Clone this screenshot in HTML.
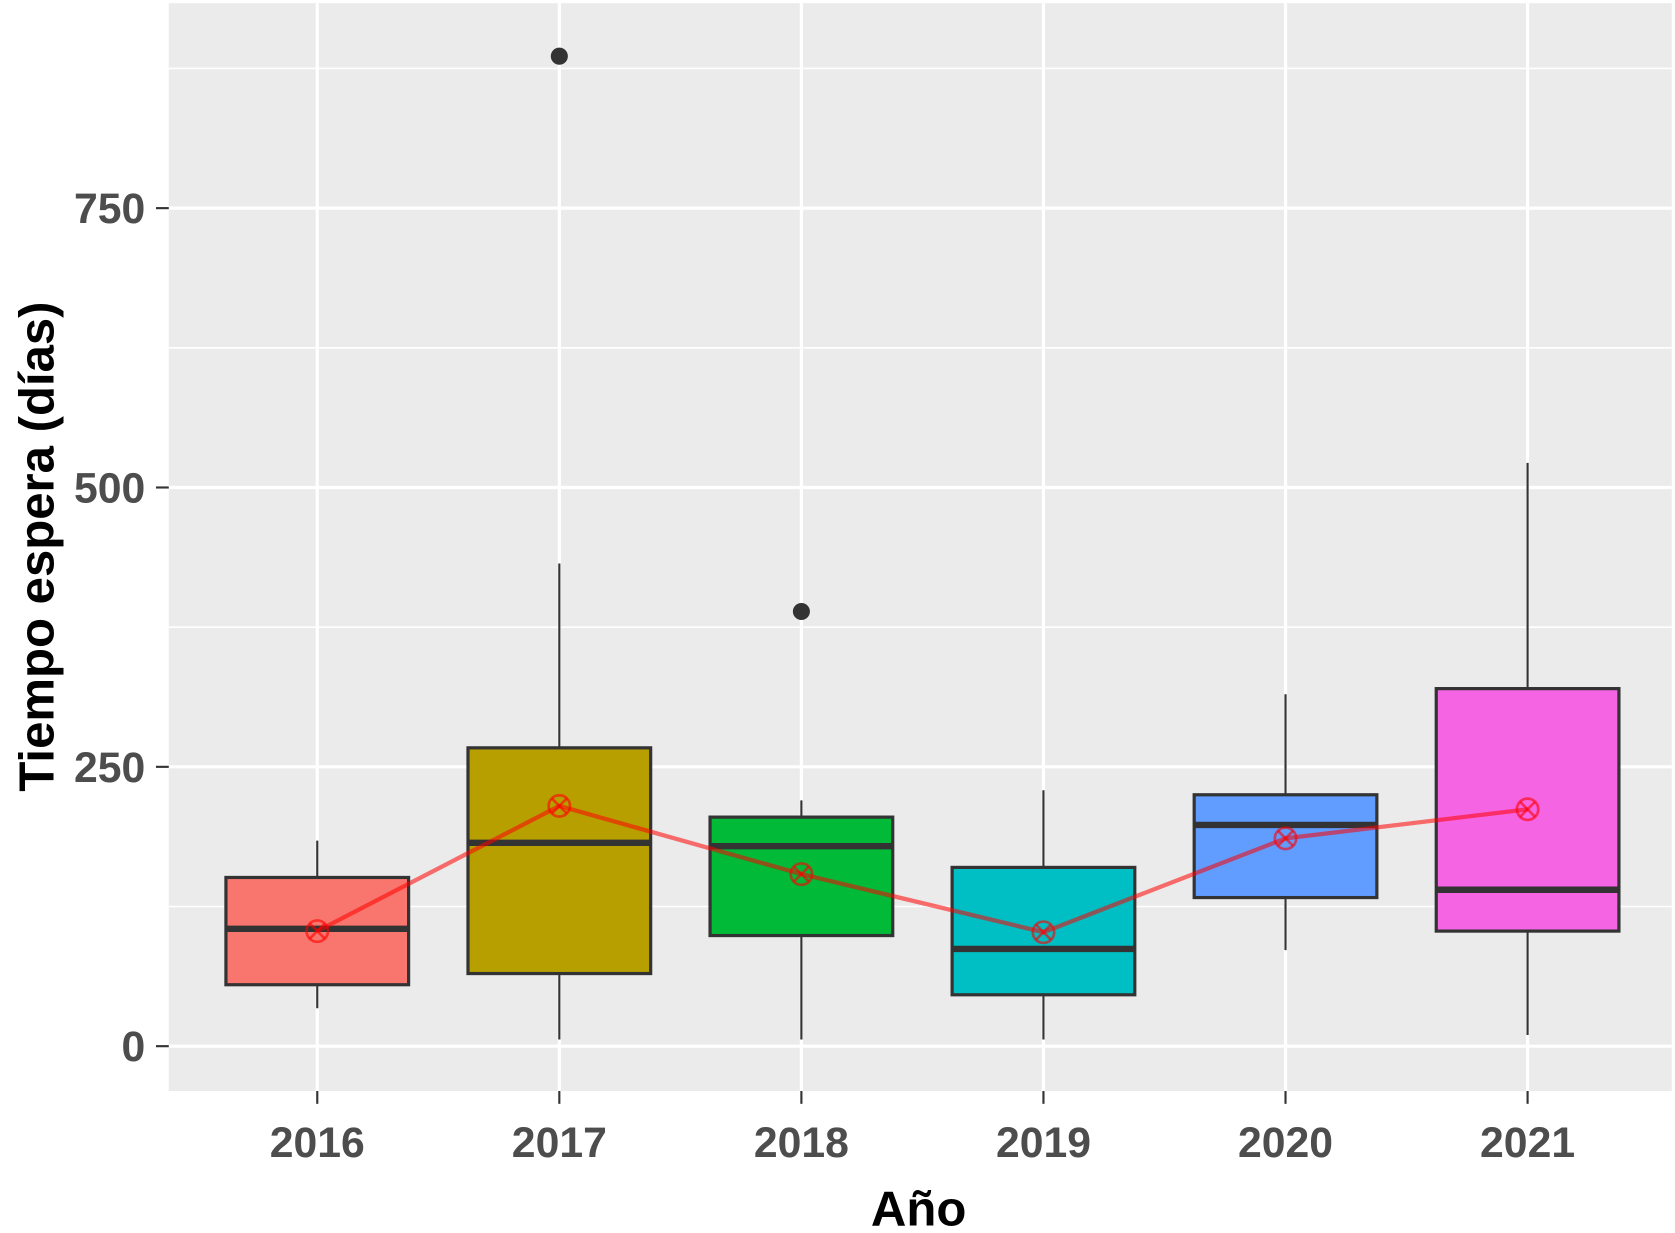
<!DOCTYPE html>
<html><head><meta charset="utf-8"><style>
html,body{margin:0;padding:0;background:#fff;}
svg{display:block;font-family:"Liberation Sans",sans-serif;}
</style></head><body>
<svg id="chart" width="1675" height="1233" viewBox="0 0 1568 1155" preserveAspectRatio="none" xmlns="http://www.w3.org/2000/svg">
<rect x="158" y="3" width="1407" height="1019" fill="#EBEBEB"/>
<g id="grid"></g><g id="boxes"></g><g id="meanline"></g><g id="axes"></g>
<text x="860" y="1148" text-anchor="middle" font-size="46" font-weight="bold" fill="#000">Año</text>
<text transform="translate(50,512) rotate(-90)" text-anchor="middle" font-size="46" font-weight="bold" fill="#000">Tiempo espera (días)</text>
</svg>
<script>
const categories=["2016","2017","2018","2019","2020","2021"];
const whiskerLow=[34,6,6,6,86,10];
const q1=[55,65,99,46,133,103];
const medians=[105,182,179,87,198,140];
const q3=[151,267,205,160,225,320];
const whiskerHigh=[184,432,220,229,315,522];
const means=[103,215,154,102,186,212];
const outliers=[[],[886],[389],[],[],[]];
const yTicks=[0,250,500,750];
const yMinor=[125,375,625,875];
const colors=["#F8766D","#B79F00","#00BA38","#00BFC4","#619CFF","#F564E3"];
const NS="http://www.w3.org/2000/svg";
const y=v=>980-v*1.0467;
const x=i=>297+i*226.6;
const bw=171;
function mk(tag,attrs,parent){const e=document.createElementNS(NS,tag);for(const k in attrs)e.setAttribute(k,attrs[k]);parent.appendChild(e);return e;}
const grid=document.getElementById('grid'),boxes=document.getElementById('boxes'),ml=document.getElementById('meanline'),axes=document.getElementById('axes');
yMinor.forEach(v=>{const l=mk('line',{x1:158,x2:1565,y1:y(v),y2:y(v),stroke:'#fff','stroke-width':1.5},grid);

});
yTicks.forEach(v=>{const l=mk('line',{x1:158,x2:1565,y1:y(v),y2:y(v),stroke:'#fff','stroke-width':3},grid);


const t=mk('line',{x1:146,x2:158,y1:y(v),y2:y(v),stroke:'#333','stroke-width':2},axes);


const tx=mk('text',{x:136,y:y(v)+14,'text-anchor':'end','font-size':40,'font-weight':'bold',fill:'#4D4D4D'},axes);
tx.textContent=v;

});
categories.forEach((c,i)=>{const cx=x(i);
const g=mk('line',{x1:cx,x2:cx,y1:3,y2:1022,stroke:'#fff','stroke-width':3},grid);


const t=mk('line',{x1:cx,x2:cx,y1:1022,y2:1034,stroke:'#333','stroke-width':2},axes);


const tx=mk('text',{x:cx,y:1084,'text-anchor':'middle','font-size':40,'font-weight':'bold',fill:'#4D4D4D'},axes);
tx.textContent=c;


const w=mk('line',{x1:cx,x2:cx,y1:y(whiskerHigh[i]),y2:y(whiskerLow[i]),stroke:'#333','stroke-width':2},boxes);


const b=mk('rect',{x:cx-bw/2,y:y(q3[i]),width:bw,height:y(q1[i])-y(q3[i]),fill:colors[i],stroke:'#333','stroke-width':3},boxes);


const m=mk('line',{x1:cx-bw/2,x2:cx+bw/2,y1:y(medians[i]),y2:y(medians[i]),stroke:'#333','stroke-width':6},boxes);


outliers[i].forEach(o=>{const p=mk('circle',{cx:cx,cy:y(o),r:8,fill:'#333'},boxes);

});});
const pts=means.map((m,i)=>x(i)+','+y(m)).join(' ');
const pl=mk('polyline',{points:pts,fill:'none',stroke:'#FF0000','stroke-opacity':0.55,'stroke-width':4},ml);


means.forEach((m,i)=>{const cx=x(i),cy=y(m),r=10;
const g=mk('g',{stroke:'#FF0000','stroke-opacity':0.6,'stroke-width':2.5,fill:'none'},ml);


mk('circle',{cx:cx,cy:cy,r:r},g);
mk('line',{x1:cx-7,y1:cy-7,x2:cx+7,y2:cy+7},g);
mk('line',{x1:cx-7,y1:cy+7,x2:cx+7,y2:cy-7},g);});
</script>
</body></html>
